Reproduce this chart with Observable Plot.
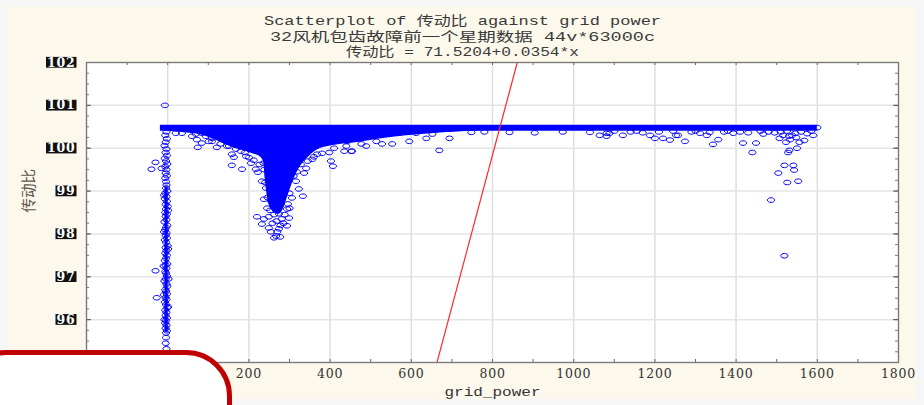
<!DOCTYPE html>
<html><head><meta charset="utf-8">
<script src="https://cdn.jsdelivr.net/npm/d3@7"></script>
<script src="https://cdn.jsdelivr.net/npm/@observablehq/plot@0.6"></script>
<style>
html,body{margin:0;padding:0;background:#f6f6f6;}
#wrap{position:relative;width:924px;height:405px;overflow:hidden;background:#f6f6f6;}
#panel{position:absolute;left:8px;top:6px;width:908px;height:393px;background:#fcf8ec;}
#chart{position:absolute;left:0;top:0;}
#overlay{position:absolute;left:-40px;top:350px;width:272px;height:120px;box-sizing:border-box;border:5.5px solid #c00000;border-radius:46px;background:#fff;}
</style></head>
<body><div id="wrap"><div id="panel"></div><div id="chart"></div><div id="overlay"></div></div>
<script>
// ---- text ----
const title1 = "Scatterplot of 传动比 against grid power";
const title2 = "32风机包齿故障前一个星期数据 44v*63000c";
const title3 = "传动比 = 71.5204+0.0354*x";
const xLabel = "grid_power";
const yLabel = "传动比";

// ---- ticks ----
const xTicks = [-200, 0, 200, 400, 600, 800, 1000, 1200, 1400, 1600, 1800];
const yTicks = [95, 96, 97, 98, 99, 100, 101, 102];

// ---- regression line endpoints (传动比 = 71.5204 + 0.0354*x) ----
const regX = [663.3, 861.0];
const regY = [95, 102];

// ---- dense band of points at ~100.48 ----
const bandLevel = 100.48;
const bandStart = -18;
const bandEnd = 1600;

// ---- dense part of the column at grid_power ~ 0 ----
const columnCoreX = -4;
const columnCoreTop = 99.1;
const columnCoreBottom = 95.7;

// ---- dense core under the band (V shape near grid_power 250) ----
const coreX =   [-10, 40, 77, 110, 158, 200, 232, 240, 245, 252, 262, 275, 285, 293, 302, 312, 322, 335, 350, 373, 420, 472, 560, 680, 800];
const coreLow = [100.4, 100.36, 100.32, 100.22, 100.02, 99.9, 99.76, 99.3, 98.9, 98.62, 98.5, 98.46, 98.58, 98.8, 99.05, 99.3, 99.5, 99.68, 99.82, 99.98, 100.08, 100.14, 100.26, 100.36, 100.42];
const coreTop = 100.46;

// ---- column of points at grid_power ~ 0 ----
const columnPoints = [
 [-7,101.0],
 [-3,100.38],[-6,100.3],[-2,100.22],[-5,100.14],[-8,100.06],[-3,99.98],[-5,99.9],[-2,99.83],[-7,99.76],[-4,99.7],
 [-1,99.63],[-6,99.57],[-3,99.5],[-5,99.42],[-2,99.36],[-6,99.3],[-4,99.22],[-3,99.14],
 [-30,99.67],[-40,99.51],[-15,99.53],[-30,97.14],[-27,96.51],
 [-4,99.07],[-1,99.0],[-6,98.95],[-3,98.87],[-7,98.82],[-2,98.76],[-5,98.69],[0,98.64],[-4,98.58],[-6,98.5],
 [-2,98.46],[-5,98.41],[-3,98.33],[-8,98.28],[-1,98.2],[-4,98.15],[-6,98.1],[-3,98.02],[-5,97.97],[-2,97.9],
 [-7,97.86],[-4,97.8],[0,97.72],[-5,97.68],[-3,97.61],[-6,97.55],[-2,97.5],[-4,97.43],[-7,97.38],[-1,97.3],
 [-5,97.27],[-3,97.2],[-6,97.12],[-4,97.08],[-2,97.02],[-5,96.95],[-8,96.9],[-3,96.83],[-1,96.78],[-6,96.7],
 [-4,96.66],[-2,96.6],[-5,96.52],[-3,96.47],[-7,96.41],[-4,96.35],[-1,96.28],[-6,96.22],[-3,96.17],[-5,96.1],
 [-2,96.04],[-4,95.98],[-6,95.92],[-3,95.87],[-5,95.8],[-2,95.74],[-4,95.69],[-4,95.58],[-5,95.45],[-3,95.32],[-4,95.2],
 [-9,98.9],[1,98.55],[-9,98.05],[1,97.65],[-10,97.25],[2,96.95],[-9,96.58],[1,96.3],[-8,96.0]
];

// ---- scattered points around the V ----
const vPoints = [
 [20,100.35],[35,100.35],[69,100.33],[84,100.35],[94,100.28],[72,100.2],[74,100.02],[101,100.16],[109,100.23],[121,100.02],
 [84,100.12],[109,100.16],[146,100.05],[151,100.05],[168,99.98],[180,99.93],[158,99.86],[163,99.79],[193,99.81],[158,99.6],
 [183,99.51],[217,99.51],[222,99.44],[232,99.23],[242,99.07],[237,98.81],[254,98.77],[220,98.4],[237,98.35],[232,98.23],
 [249,98.14],[254,98.05],[267,97.95],[262,97.91],[277,97.93],[274,98.12],[294,98.19],[299,98.37],[281,98.35],[274,98.47],
 [294,98.58],[306,98.84],[333,98.88],[323,99.05],[316,99.23],[336,99.42],[341,99.53],[356,99.74],[368,99.86],[398,99.9],
 [402,99.7],[407,99.58],[435,99.93],[452,99.93],[410,100.0],[440,100.05],[477,100.1],[454,99.93],[489,100.05],[553,100.1],
 [595,100.16],[514,100.16],[528,100.1],[422,100.23],[442,100.16],[637,100.23],[652,100.33],[669,99.95],[694,100.23],[748,100.37],
 [546,100.33],[570,100.35],[612,100.35],[365,100.33],[390,100.35],
 [258,98.25],[268,98.3],[285,98.25],[262,98.45],[288,98.45],[252,98.55],[278,98.2],[270,98.05],[245,98.6],[300,98.6],
 [238,99.5],[240,99.2],[236,99.65],[212,99.72],[200,99.78],[226,99.62],[310,99.35],[318,99.45],[328,99.62],[345,99.7],
 [360,99.8],[380,99.88],[300,98.95],[296,98.7],[246,98.85],[249,98.4],[205,99.65],[190,99.9],[130,100.1],[60,100.28]
];

// ---- scattered points in the right half ----
const rightPoints = [
 [780,100.38],[842,100.37],[904,100.36],[973,100.38],[1040,100.37],[1064,100.3],
 [1081,100.28],[1121,100.3],[1155,100.4],[1188,100.3],[1200,100.23],[1220,100.23],[1237,100.19],[1274,100.16],[1343,100.09],
 [1356,100.2],[1417,100.12],[1449,100.12],[1440,99.9],[1486,98.79],[1504,99.42],[1519,99.6],[1541,99.6],[1543,99.49],
 [1526,99.2],[1553,99.23],[1519,97.49],[1528,99.9],[1531,99.95],[1550,100.0],[1523,100.14],[1568,100.18],[1556,100.14],
 [1507,100.23],[1516,100.3],[1533,100.2],[1546,100.35],[1081,100.35],[1088,100.35],[1467,100.33],[1393,100.35],[1311,100.35],
 [1328,100.3],[1252,100.3],[1257,100.3],
 [1100,100.4],[1140,100.38],[1170,100.36],[1210,100.38],[1245,100.4],[1290,100.38],[1300,100.4],[1335,100.37],[1370,100.38],
 [1380,100.4],[1410,100.38],[1430,100.36],[1460,100.4],[1480,100.38],[1495,100.36],[1510,100.38],[1525,100.4],[1538,100.3],
 [1560,100.38],[1575,100.34],[1585,100.4],[1600,100.48],[1590,100.3],[1548,100.25],[1530,100.28]
];

// ---- rendering ----
const W = 924, H = 405, mL = 86, mR = 26, mT = 62, mB = 43;
const pw = W - mL - mR, ph = H - mT - mB;
const blue = "#0000ff";
const ellipse = {
  draw(ctx) {
    const rx = 3.6, ry = 2.3, k = 0.5523;
    ctx.moveTo(rx, 0);
    ctx.bezierCurveTo(rx, k * ry, k * rx, ry, 0, ry);
    ctx.bezierCurveTo(-k * rx, ry, -rx, k * ry, -rx, 0);
    ctx.bezierCurveTo(-rx, -k * ry, -k * rx, -ry, 0, -ry);
    ctx.bezierCurveTo(k * rx, -ry, rx, -k * ry, rx, 0);
    ctx.closePath();
  }
};
const dotOpts = {x: d => d[0], y: d => d[1], symbol: ellipse, fill: "none", stroke: blue, strokeWidth: 1};
const xMinor = d3.range(-200, 1801, 100);
const yMinor = d3.range(95, 102.01, 0.25);
const coreData = coreX.map((x, i) => ({x, y1: coreTop, y2: coreLow[i]}));
const regData = regX.map((x, i) => ({x, y: regY[i]}));
const tickFont = "DejaVu Serif";
const monoFont = "'Liberation Mono', 'Noto Sans CJK SC', monospace";

const chart = Plot.plot({
  width: W, height: H,
  marginLeft: mL, marginRight: mR, marginTop: mT, marginBottom: mB,
  x: {domain: [-200, 1800], axis: null},
  y: {domain: [95, 102], axis: null},
  style: {background: "transparent", overflow: "visible"},
  marks: [
    Plot.frame({fill: "white", stroke: null}),
    Plot.ruleX(xTicks, {stroke: "#dedede", strokeWidth: 1.5}),
    Plot.ruleY(yTicks, {stroke: "#e4e4e4", strokeWidth: 1.5}),
    Plot.areaY(coreData, {x: "x", y1: "y1", y2: "y2", fill: blue, curve: "catmull-rom"}),
    Plot.ruleX([columnCoreX], {y1: columnCoreBottom, y2: columnCoreTop, stroke: blue, strokeWidth: 3}),
    Plot.ruleY([bandLevel], {x1: bandStart, x2: bandEnd, stroke: blue, strokeWidth: 6}),
    Plot.dot(columnPoints, dotOpts),
    Plot.dot(vPoints, dotOpts),
    Plot.dot(rightPoints, dotOpts),
    Plot.line(regData, {x: "x", y: "y", stroke: "#ff2a2a", strokeWidth: 1.2, clip: true}),
    // inward ticks on all four sides
    Plot.ruleY(yMinor, {insetRight: pw - 3, stroke: "#777"}),
    Plot.ruleY(yTicks, {insetRight: pw - 5, stroke: "#555"}),
    Plot.ruleY(yMinor, {insetLeft: pw - 3, stroke: "#777"}),
    Plot.ruleY(yTicks, {insetLeft: pw - 5, stroke: "#555"}),
    Plot.ruleX(xMinor, {insetTop: ph - 3, stroke: "#666"}),
    Plot.ruleX(xMinor, {insetBottom: ph - 3, stroke: "#666"}),
    Plot.frame({stroke: "#7a7a7a", strokeWidth: 1.3}),
    // tick labels
    Plot.text(xTicks, {x: d => d, frameAnchor: "bottom", dy: 11, text: d => `${d}`, fontFamily: tickFont, fontSize: 12.5, fill: "#333", lineAnchor: "middle", ariaDescription: "xtick-label"}),
    Plot.text(yTicks, {y: d => d, frameAnchor: "left", dx: -11, text: d => `${d}`, textAnchor: "end", fontFamily: tickFont, fontSize: 12.5, fontWeight: "bold", fill: "white", lineAnchor: "middle", ariaDescription: "ytick-label"}),
    // axis titles
    Plot.text([xLabel], {frameAnchor: "bottom", dy: 29, text: d => d, fontFamily: monoFont, fontSize: 13, fill: "#333", lineAnchor: "middle", ariaDescription: "xlabel"}),
    Plot.text([yLabel], {frameAnchor: "left", dx: -57, text: d => d, rotate: -90, fontFamily: "'Noto Sans CJK SC'", fontSize: 14.5, fill: "#5e554c", lineAnchor: "middle"}),
    // title block
    Plot.text([title1], {frameAnchor: "top", dx: -30, dy: -42, text: d => d, fontFamily: monoFont, fontSize: 13, fill: "#3a3a3a", lineAnchor: "middle", ariaDescription: "title1"}),
    Plot.text([title2], {frameAnchor: "top", dx: -30, dy: -26, text: d => d, fontFamily: monoFont, fontSize: 13, fill: "#3a3a3a", lineAnchor: "middle", ariaDescription: "title2"}),
    Plot.text([title3], {frameAnchor: "top", dx: -30, dy: -11, text: d => d, fontFamily: monoFont, fontSize: 13, fill: "#3a3a3a", lineAnchor: "middle", ariaDescription: "title3"})
  ]
});
document.getElementById("chart").appendChild(chart);

const group = name => chart.querySelector(`g[aria-description="${name}"]`);
// stretch text widths to match the horizontally stretched original
const stretch = {title1: 397, title2: 385, title3: 233, xlabel: 96};
for (const [k, len] of Object.entries(stretch)) {
  const g = group(k);
  if (!g) continue;
  g.querySelectorAll("text").forEach(t => {
    t.setAttribute("textLength", len);
    t.setAttribute("lengthAdjust", "spacingAndGlyphs");
  });
}
["xtick-label", "ytick-label"].forEach(k => {
  const g = group(k);
  if (g) g.querySelectorAll("text").forEach(t => t.setAttribute("letter-spacing", "0.8"));
});
// black highlight boxes behind y tick labels
const ns = "http://www.w3.org/2000/svg";
const yg = group("ytick-label");
if (yg) {
  yg.querySelectorAll("text").forEach(t => {
    const b = t.getBBox();
    const r = document.createElementNS(ns, "rect");
    r.setAttribute("x", b.x - 1);
    r.setAttribute("y", b.y + b.height * 0.16);
    r.setAttribute("width", b.width + 2);
    r.setAttribute("height", b.height * 0.72);
    r.setAttribute("fill", "#111");
    const tr = t.getAttribute("transform");
    if (tr) r.setAttribute("transform", tr);
    t.parentNode.insertBefore(r, t);
  });
}
</script></body></html>
